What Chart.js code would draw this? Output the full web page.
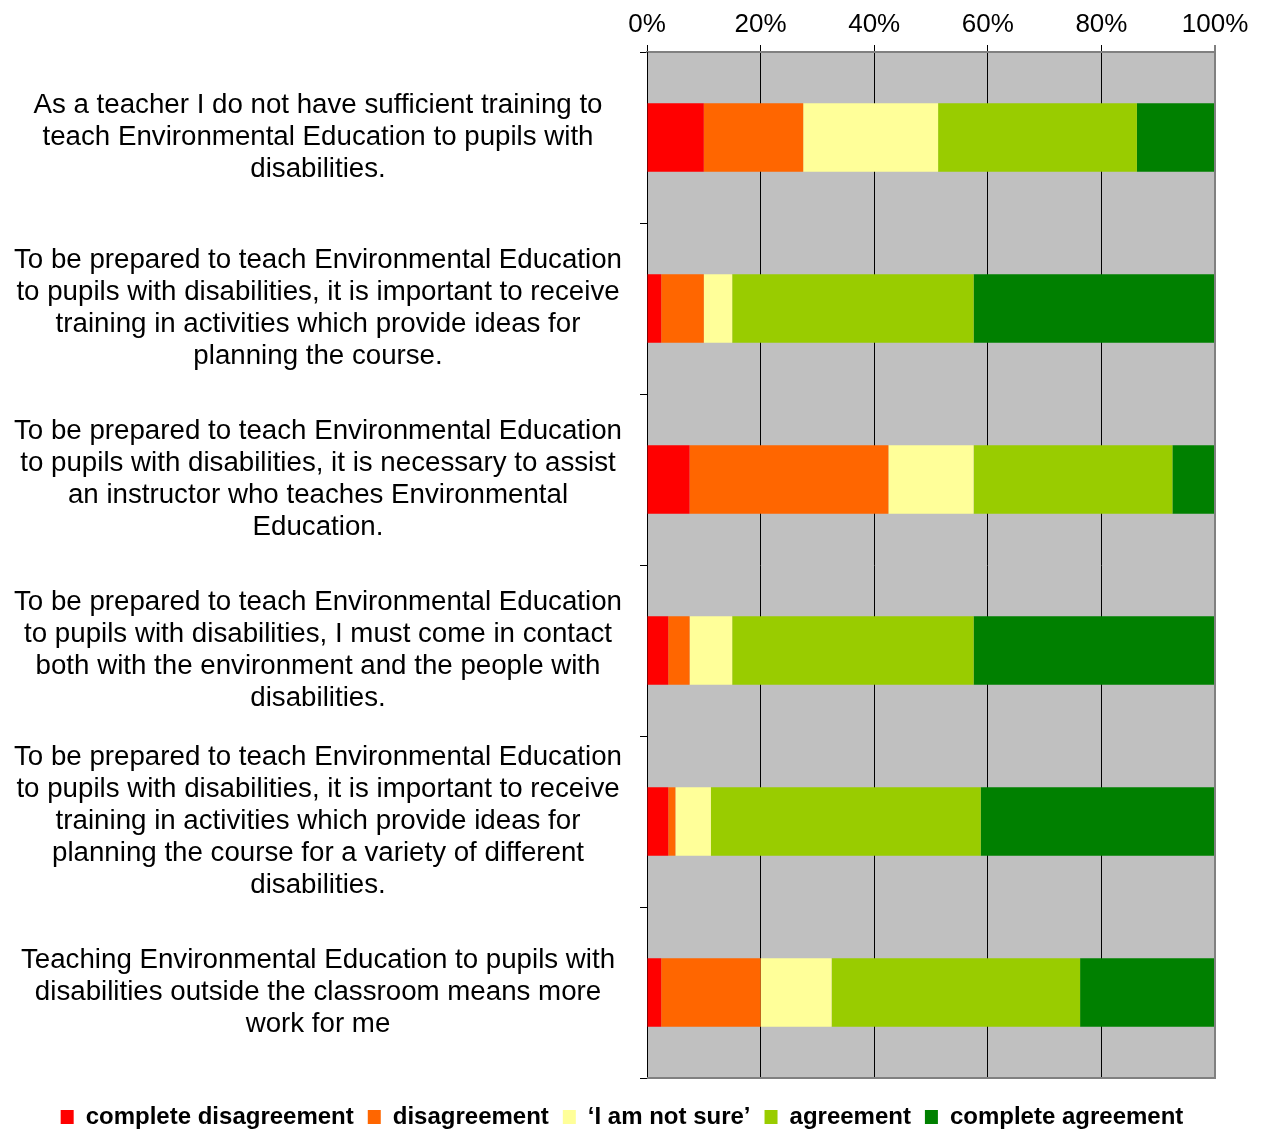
<!DOCTYPE html>
<html>
<head>
<meta charset="utf-8">
<script src="https://cdn.jsdelivr.net/npm/chart.js@4"></script>
<style>
  body { margin: 0; background: #fff; }
  #wrap { width: 1267px; height: 1130px; }
</style>
</head>
<body>
<div id="wrap"><canvas id="myChart"></canvas></div>
<script>
const statements = [
    ['As a teacher I do not have sufficient training to', 'teach Environmental Education to pupils with', 'disabilities.'],
    ['To be prepared to teach Environmental Education', 'to pupils with disabilities, it is important to receive', 'training in activities which provide ideas for', 'planning the course.'],
    ['To be prepared to teach Environmental Education', 'to pupils with disabilities, it is necessary to assist', 'an instructor who teaches Environmental', 'Education.'],
    ['To be prepared to teach Environmental Education', 'to pupils with disabilities, I must come in contact', 'both with the environment and the people with', 'disabilities.'],
    ['To be prepared to teach Environmental Education', 'to pupils with disabilities, it is important to receive', 'training in activities which provide ideas for', 'planning the course for a variety of different', 'disabilities.'],
    ['Teaching Environmental Education to pupils with', 'disabilities outside the classroom means more', 'work for me'],
];

// percent of answers per statement
const completeDisagreement = [10, 2.5, 7.5, 3.75, 3.75, 2.5];
const disagreement = [17.5, 7.5, 35, 3.75, 1.25, 17.5];
const notSure = [23.75, 5, 15, 7.5, 6.25, 12.5];
const agreement = [35, 42.5, 35, 42.5, 47.5, 43.75];
const completeAgreement = [13.75, 42.5, 7.5, 42.5, 41.25, 23.75];

const seriesNames = ['complete disagreement', 'disagreement', '\u2018I am not sure\u2019', 'agreement', 'complete agreement'];
const seriesColors = ['#FF0000', '#FF6600', '#FFFF99', '#99CC00', '#008000'];
const tickValues = [0, 20, 40, 60, 80, 100];

const plotFrame = {
    id: 'plotFrame',
    beforeDraw(chart) {
        const { ctx, chartArea: a } = chart;
        ctx.save();
        ctx.fillStyle = '#C0C0C0';
        ctx.fillRect(a.left, a.top, a.right - a.left, a.bottom - a.top);
        ctx.restore();
    },
    afterDraw(chart) {
        const { ctx, chartArea: a } = chart;
        ctx.save();
        ctx.strokeStyle = '#808080';
        ctx.lineWidth = 2;
        ctx.beginPath();
        ctx.moveTo(a.right, a.top);
        ctx.lineTo(a.right, a.bottom);
        ctx.lineTo(a.left, a.bottom);
        ctx.stroke();
        ctx.restore();
    }
};

const allSeries = [completeDisagreement, disagreement, notSure, agreement, completeAgreement];

const ctx = document.getElementById('myChart').getContext('2d');
Chart.defaults.font.family = '"Liberation Sans", Arial, sans-serif';
Chart.defaults.color = '#000';

const chart = new Chart(ctx, {
    type: 'bar',
    data: {
        labels: statements,
        datasets: allSeries.map((values, i) => ({
            label: seriesNames[i],
            data: values,
            backgroundColor: seriesColors[i],
            borderWidth: 0,
            categoryPercentage: 1,
            barPercentage: 0.4,
        }))
    },
    options: {
        indexAxis: 'y',
        responsive: true,
        maintainAspectRatio: false,
        animation: false,
        layout: { padding: { left: 0, right: 23, top: 0, bottom: -9 } },
        plugins: {
            tooltip: { enabled: false },
            // empty title on the right only reserves space so the legend centres like the original
            title: { display: true, text: '', position: 'right', padding: 0, font: { size: 29, lineHeight: 1 } },
            legend: {
                position: 'bottom',
                title: { display: true, text: '', padding: 0, font: { size: 13, lineHeight: 1 } },
                labels: {
                    boxWidth: 13,
                    boxHeight: 14,
                    padding: 14,
                    color: '#000',
                    font: { size: 24, weight: 'bold' },
                }
            }
        },
        scales: {
            x: {
                position: 'top',
                stacked: true,
                min: 0,
                max: 100,
                afterBuildTicks: (axis) => { axis.ticks = tickValues.map(v => ({ value: v })); },
                afterFit: (axis) => { axis.height = 52; },
                ticks: {
                    callback: (v) => v + '%',
                    padding: 5,
                    font: { size: 26 },
                    color: '#000',
                },
                grid: {
                    color: (c) => c.tick && c.tick.value === 100 ? '#808080' : '#000',
                    lineWidth: (c) => c.tick && c.tick.value === 100 ? 2 : 1,
                    tickLength: 7,
                },
                border: { display: true, color: '#808080', width: 2 },
            },
            y: {
                stacked: true,
                afterFit: (axis) => {
                    axis.width = 647;
                    axis.paddingTop = 0;
                    axis.paddingBottom = 0;
                },
                ticks: {
                    crossAlign: 'center',
                    padding: 18,
                    font: { size: 27.7, lineHeight: 32 / 27.7 },
                    color: '#000',
                },
                grid: {
                    drawOnChartArea: false,
                    tickLength: 7,
                    color: '#000',
                },
                border: { display: true, color: '#000', width: 1 },
            }
        }
    },
    plugins: [plotFrame]
});
</script>
</body>
</html>
